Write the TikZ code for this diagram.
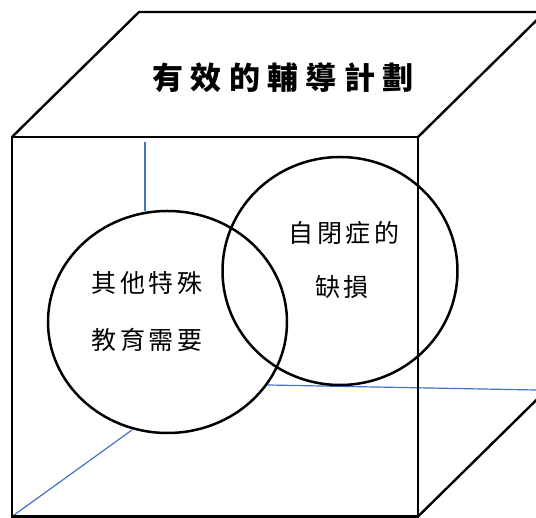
\documentclass[tikz,border=0pt]{standalone}
\usepackage{fontspec}
\usetikzlibrary{shapes.geometric}
\newfontfamily\cjk[LetterSpace=14]{Noto Sans CJK TC}
\newfontfamily\cjkhead[LetterSpace=24]{Noto Sans CJK TC}
\definecolor{hiddenblue}{RGB}{68,114,196}
\tikzstyle{edge} = [line width=2.4pt, draw=black]
\tikzstyle{hidden} = [line width=1.2pt, draw=hiddenblue]
\tikzstyle{setring} = [ellipse, draw=black, line width=2.5pt, inner sep=0pt]
\tikzstyle{settext} = [font=\cjk\fontsize{25}{25}\selectfont, inner sep=0pt]
\tikzstyle{heading} = [font=\cjkhead\bfseries\fontsize{31}{31}\selectfont, inner sep=0pt]

\begin{document}
\begin{tikzpicture}[x=1pt, y=-1pt]
\useasboundingbox (0,0) rectangle (536,518);
\clip (0,0) rectangle (536,518);

% cube corners
\coordinate (ftl) at (12,137);
\coordinate (ftr) at (418,137);
\coordinate (fbl) at (12,516.5);
\coordinate (fbr) at (418,516.5);
\coordinate (btl) at (139,12);
\coordinate (btr) at (545,12);
\coordinate (bbr) at (545,391.5);

% hidden edges
\draw [hidden] (145,142) -- (145,211);
\draw [hidden] (268,385) -- (536,390);
\draw [hidden] (fbl) -- (132,430);

% visible edges
\draw [edge] (ftl) rectangle (fbr);
\draw [edge] (ftl) -- (btl) -- (btr) -- (ftr);
\draw [edge] (fbr) -- (bbr);

\node (plan) [heading] at (283,78) {有效的輔導計劃};

% sets
\node (needs) [setring, minimum width=239pt, minimum height=222pt] at (167.5,322) {};
\node (autism) [setring, minimum width=235pt, minimum height=228pt] at (340,271) {};

\node (needs1) [settext] at (147,283) {其他特殊};
\node (needs2) [settext, below of=needs1, node distance=57pt] {教育需要};
\node (autism1) [settext] at (344,233) {自閉症的};
\node (autism2) [settext, below of=autism1, node distance=54pt, xshift=-2pt] {缺損};

\end{tikzpicture}
\end{document}
